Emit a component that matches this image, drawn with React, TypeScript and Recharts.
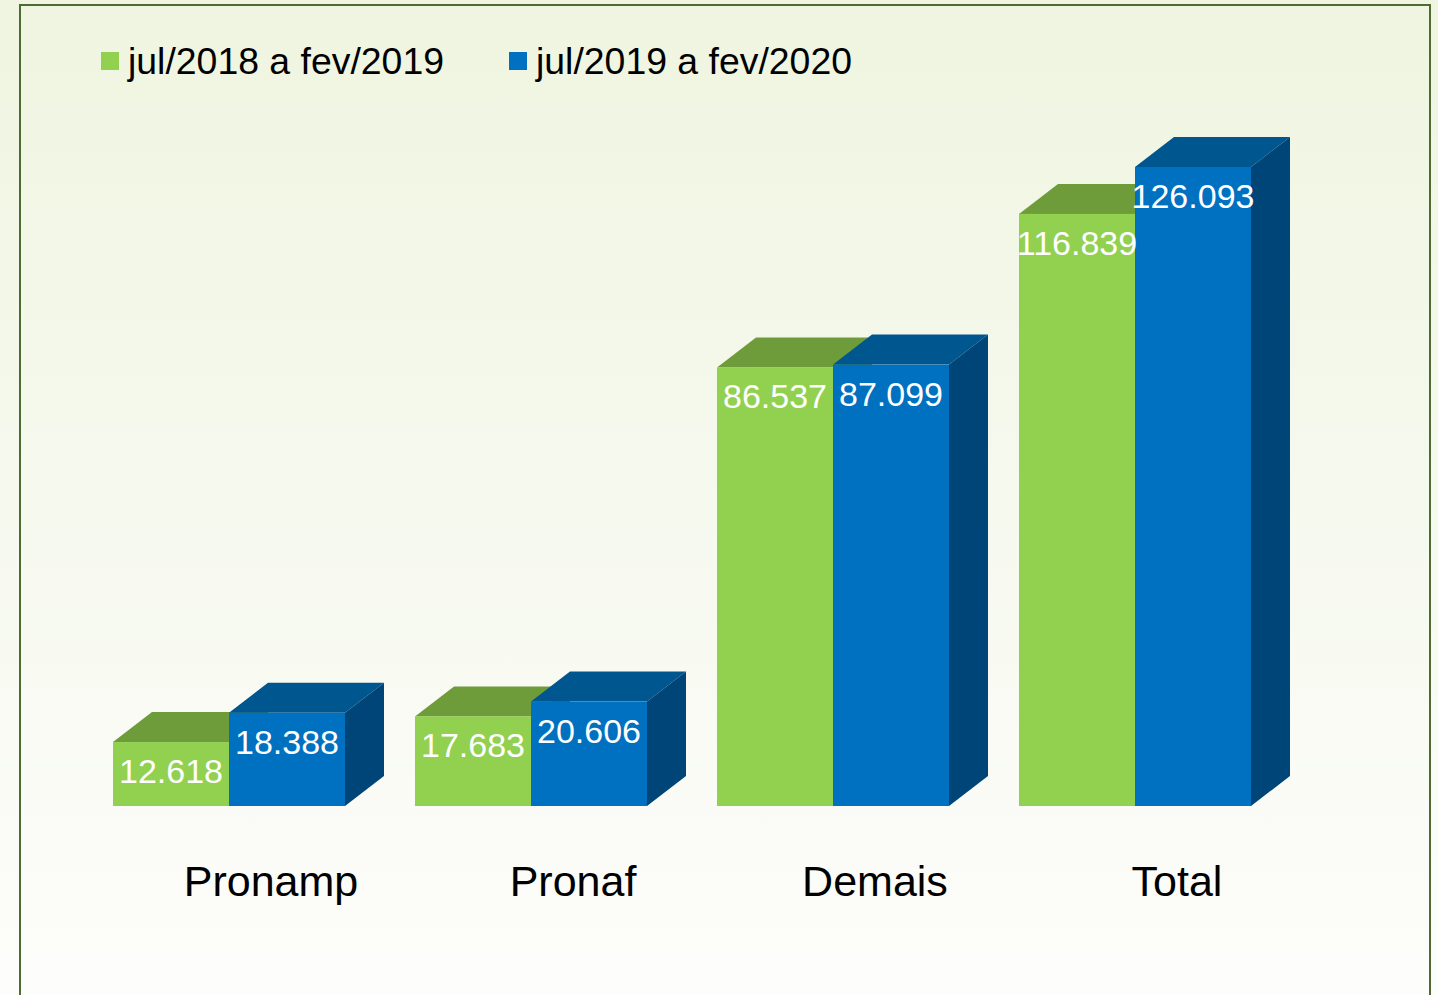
import { Bar, BarChart, LabelList, Legend, XAxis, YAxis } from "recharts";

const categories = ["Pronamp", "Pronaf", "Demais", "Total"];
const periodA = [12618, 17683, 86537, 116839];
const periodB = [18388, 20606, 87099, 126093];
const seriesNames = ["jul/2018 a fev/2019", "jul/2019 a fev/2020"];

const chartData = categories.map((name, i) => ({
  name,
  periodA: periodA[i],
  periodB: periodB[i],
}));

const palette = {
  green: { front: "#92d050", top: "#6f9c3b", side: "#5a8030" },
  blue: { front: "#0070c0", top: "#00568f", side: "#004578" },
};

const DEPTH_X = 39;
const DEPTH_Y = 30;
const FONT = "'Liberation Sans', Arial, sans-serif";

function formatValue(value: number) {
  return String(value).replace(/\B(?=(\d{3})+(?!\d))/g, ".");
}

function makeBox(colors: { front: string; top: string; side: string }) {
  return function Box(props: any) {
    const { x, y, width, height } = props;
    if (!height) return null;
    const right = x + width;
    const bottom = y + height;
    return (
      <g>
        <polygon
          points={`${x},${y} ${right},${y} ${right + DEPTH_X},${y - DEPTH_Y} ${x + DEPTH_X},${y - DEPTH_Y}`}
          fill={colors.top}
        />
        <polygon
          points={`${right},${y} ${right + DEPTH_X},${y - DEPTH_Y} ${right + DEPTH_X},${bottom - DEPTH_Y} ${right},${bottom}`}
          fill={colors.side}
        />
        <rect x={x} y={y} width={width} height={height} fill={colors.front} />
      </g>
    );
  };
}

function ValueLabel(props: any) {
  const { x, y, width, value } = props;
  return (
    <text
      x={x + width / 2}
      y={y + 41}
      textAnchor="middle"
      fill="#ffffff"
      fontSize={34}
      fontFamily={FONT}
    >
      {formatValue(value)}
    </text>
  );
}

function CategoryTick(props: any) {
  const { x, y, payload } = props;
  return (
    <text
      x={x + 42}
      y={y + 90}
      textAnchor="middle"
      fill="#000000"
      fontSize={43}
      fontFamily={FONT}
    >
      {payload.value}
    </text>
  );
}

// zero-height box so the legend does not push the plot area down
function ChartLegend() {
  const items = [
    { label: seriesNames[0], color: palette.green.front, left: 101 },
    { label: seriesNames[1], color: palette.blue.front, left: 509 },
  ];
  return (
    <div style={{ position: "relative", width: 1438, height: 0 }}>
      {items.map((item) => (
        <div key={item.label}>
          <div
            style={{
              position: "absolute",
              left: item.left,
              top: 52,
              width: 18,
              height: 18,
              background: item.color,
            }}
          />
          <div
            style={{
              position: "absolute",
              left: item.left + 27,
              top: 43,
              fontFamily: FONT,
              fontSize: 37.4,
              lineHeight: "37px",
              color: "#000000",
              whiteSpace: "nowrap",
            }}
          >
            {item.label}
          </div>
        </div>
      ))}
    </div>
  );
}

export default function App() {
  return (
    <div
      style={{
        position: "relative",
        width: 1438,
        height: 995,
        overflow: "hidden",
        background: "linear-gradient(180deg, #eff5e0 0%, #f6f9ee 50%, #fdfdfb 100%)",
      }}
    >
      <style>{`body { margin: 0; }`}</style>
      <div
        style={{
          position: "absolute",
          left: 19,
          top: 4,
          width: 1408,
          height: 1010,
          border: "2px solid #4d6b33",
        }}
      />
      <div style={{ position: "absolute", left: 0, top: 0 }}>
        <BarChart
          width={1438}
          height={995}
          data={chartData}
          margin={{ top: 96.5, right: 152, left: 78, bottom: 129 }}
          barGap={0}
          barCategoryGap={35}
        >
          <XAxis
            dataKey="name"
            axisLine={false}
            tickLine={false}
            tickSize={0}
            tickMargin={0}
            height={60}
            interval={0}
            tick={<CategoryTick />}
          />
          <YAxis hide domain={[0, 140000]} />
          <Legend
            verticalAlign="top"
            wrapperStyle={{ top: 0, left: 0, width: 1438, height: 0 }}
            content={<ChartLegend />}
          />
          <Bar
            dataKey="periodA"
            name={seriesNames[0]}
            fill={palette.green.front}
            shape={makeBox(palette.green)}
            isAnimationActive={false}
          >
            <LabelList dataKey="periodA" content={<ValueLabel />} />
          </Bar>
          <Bar
            dataKey="periodB"
            name={seriesNames[1]}
            fill={palette.blue.front}
            shape={makeBox(palette.blue)}
            isAnimationActive={false}
          >
            <LabelList dataKey="periodB" content={<ValueLabel />} />
          </Bar>
        </BarChart>
      </div>
    </div>
  );
}
